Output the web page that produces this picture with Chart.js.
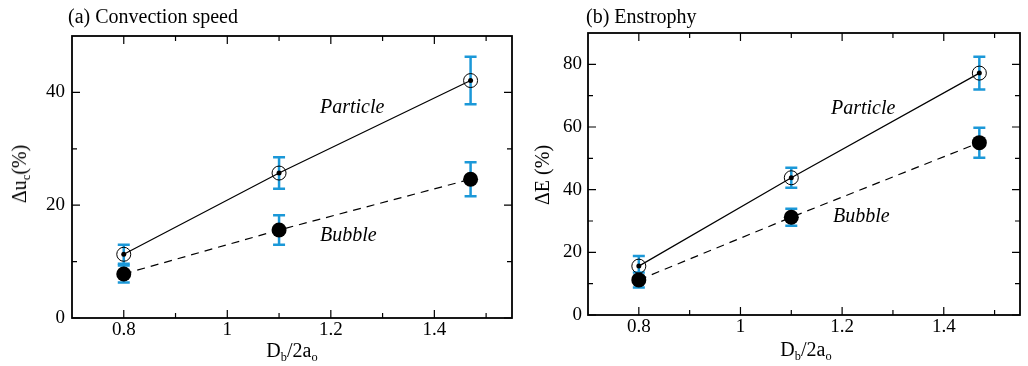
<!DOCTYPE html>
<html>
<head>
<meta charset="utf-8">
<script src="https://cdn.jsdelivr.net/npm/chart.js@4"></script>
<style>
  body { margin: 0; background: #fff; width: 1028px; height: 366px; overflow: hidden; position: relative;
         font-family: "Liberation Serif", "Times New Roman", serif; color: #000; }
  .panel { position: absolute; top: 0; height: 366px; }
  .lbl { position: absolute; font-size: 20px; line-height: 20px; white-space: nowrap; }
  .it { font-style: italic; }
  .rot { transform: translate(-50%, -50%) rotate(-90deg); }
  .cx { transform: translateX(-50%); }
  sub { font-size: 0.62em; vertical-align: -0.3em; line-height: 0; }
</style>
</head>
<body>
<div class="panel" style="left:0;width:520px"><canvas id="speedChart" width="520" height="366"></canvas></div>
<div class="panel" style="left:520px;width:508px"><canvas id="enstChart" width="508" height="366"></canvas></div>

<div class="lbl" style="left:68px;top:6px">(a) Convection speed</div>
<div class="lbl" style="left:586px;top:6px">(b) Enstrophy</div>
<div class="lbl rot" style="left:19px;top:174px">Δu<sub>c</sub>(%)</div>
<div class="lbl rot" style="left:542px;top:175px">ΔE (%)</div>
<div class="lbl cx" style="left:292px;top:340px">D<sub>b</sub>/2a<sub>o</sub></div>
<div class="lbl cx" style="left:806px;top:339px">D<sub>b</sub>/2a<sub>o</sub></div>
<div class="lbl it" style="left:320px;top:96px">Particle</div>
<div class="lbl it" style="left:320px;top:224px">Bubble</div>
<div class="lbl it" style="left:831px;top:97px">Particle</div>
<div class="lbl it" style="left:833px;top:205px">Bubble</div>

<script>
// data
const xValues = [0.8, 1.1, 1.47];

const speedParticle = [11.3, 25.7, 42.1];
const speedParticleErr = [1.7, 2.8, 4.2];
const speedBubble = [7.8, 15.6, 24.6];
const speedBubbleErr = [1.5, 2.6, 3.0];

const enstParticle = [15.6, 43.8, 77.2];
const enstParticleErr = [3.2, 3.2, 5.2];
const enstBubble = [11.2, 31.2, 55.0];
const enstBubbleErr = [2.4, 2.7, 4.8];

const xTickValues = [0.8, 0.9, 1.0, 1.1, 1.2, 1.3, 1.4, 1.5];
const xTickLabels = ['0.8', '', '1', '', '1.2', '', '1.4', ''];
const speedTickValues = [0, 10, 20, 30, 40];
const speedTickLabels = ['0', '', '20', '', '40'];
const enstTickValues = [0, 10, 20, 30, 40, 50, 60, 70, 80];
const enstTickLabels = ['0', '', '20', '', '40', '', '60', '', '80'];

const FONT = 'Liberation Serif';
const BLUE = '#1b98d8';

// error bars, drawn under the markers
const errorBars = {
    id: 'errorBars',
    beforeDatasetsDraw(chart) {
        const { ctx, scales: { x, y } } = chart;
        ctx.save();
        ctx.strokeStyle = BLUE;
        ctx.lineWidth = 2.5;
        chart.data.datasets.forEach(ds => {
            if (!ds.errors) return;
            ds.data.forEach((p, i) => {
                const px = x.getPixelForValue(p.x);
                const top = y.getPixelForValue(p.y + ds.errors[i]);
                const bot = y.getPixelForValue(p.y - ds.errors[i]);
                ctx.beginPath();
                ctx.moveTo(px, top); ctx.lineTo(px, bot);
                ctx.moveTo(px - 6, top); ctx.lineTo(px + 6, top);
                ctx.moveTo(px - 6, bot); ctx.lineTo(px + 6, bot);
                ctx.stroke();
            });
        });
        ctx.restore();
    }
};

// box frame with inward ticks on all four sides
const frameTicks = {
    id: 'frameTicks',
    afterDraw(chart) {
        const { ctx, chartArea: a, scales: { x, y } } = chart;
        const opts = chart.options.plugins.frameTicks;
        ctx.save();
        ctx.strokeStyle = '#000';
        ctx.lineWidth = 1.2;
        ctx.beginPath();
        xTickValues.forEach((v, i) => {
            const len = xTickLabels[i] ? 8 : 5;
            const px = x.getPixelForValue(v);
            ctx.moveTo(px, a.bottom); ctx.lineTo(px, a.bottom - len);
            ctx.moveTo(px, a.top); ctx.lineTo(px, a.top + len);
        });
        opts.values.forEach((v, i) => {
            const len = opts.labels[i] ? 8 : 5;
            const py = y.getPixelForValue(v);
            ctx.moveTo(a.left, py); ctx.lineTo(a.left + len, py);
            ctx.moveTo(a.right, py); ctx.lineTo(a.right - len, py);
        });
        ctx.stroke();
        ctx.lineWidth = 1.8;
        ctx.strokeRect(a.left, a.top, a.width, a.height);
        ctx.restore();
    }
};

function points(vals) {
    return xValues.map((x, i) => ({ x: x, y: vals[i] }));
}

function makeChart(id, cfg) {
    const tickFont = { family: FONT, size: 19 };
    return new Chart(document.getElementById(id), {
        type: 'line',
        data: {
            datasets: [
                { data: points(cfg.particle), showLine: false, pointRadius: 2.5,
                  pointBackgroundColor: '#000', pointBorderWidth: 0 },
                { data: points(cfg.particle), errors: cfg.particleErr, borderColor: '#000', borderWidth: 1.2,
                  pointRadius: 7, pointBorderWidth: 1, pointBorderColor: '#000',
                  pointBackgroundColor: 'rgba(0,0,0,0)' },
                { data: points(cfg.bubble), errors: cfg.bubbleErr, borderColor: '#000', borderWidth: 1.2,
                  borderDash: [8, 6], pointRadius: 7.5, pointBorderWidth: 0,
                  pointBackgroundColor: '#000' }
            ]
        },
        options: {
            responsive: false,
            animation: false,
            devicePixelRatio: 1,
            layout: { padding: cfg.padding },
            plugins: {
                legend: { display: false },
                tooltip: { enabled: false },
                frameTicks: { values: cfg.yValues, labels: cfg.yLabels }
            },
            scales: {
                x: {
                    type: 'linear', min: 0.7, max: 1.55,
                    grid: { display: false, drawTicks: false },
                    border: { display: false },
                    afterBuildTicks: s => { s.ticks = xTickValues.map(v => ({ value: v })); },
                    afterFit: s => { s.height = cfg.xHeight; },
                    ticks: { padding: 1, color: '#000', font: tickFont, maxRotation: 0, autoSkip: false,
                             callback: (v, i) => xTickLabels[i] }
                },
                y: {
                    min: 0, max: cfg.yMax,
                    grid: { display: false, drawTicks: false },
                    border: { display: false },
                    afterBuildTicks: s => { s.ticks = cfg.yValues.map(v => ({ value: v })); },
                    afterFit: s => { s.width = cfg.yWidth; },
                    ticks: { padding: cfg.yPad, color: '#000', font: tickFont, autoSkip: false,
                             callback: (v, i) => cfg.yLabels[i] }
                }
            }
        },
        plugins: [errorBars, frameTicks]
    });
}

makeChart('speedChart', {
    particle: speedParticle, particleErr: speedParticleErr,
    bubble: speedBubble, bubbleErr: speedBubbleErr,
    yValues: speedTickValues, yLabels: speedTickLabels, yMax: 50,
    padding: { top: 36, right: 8, left: 0, bottom: 0 }, xHeight: 48, yWidth: 72, yPad: 7
});

makeChart('enstChart', {
    particle: enstParticle, particleErr: enstParticleErr,
    bubble: enstBubble, bubbleErr: enstBubbleErr,
    yValues: enstTickValues, yLabels: enstTickLabels, yMax: 90,
    padding: { top: 33, right: 6, left: 0, bottom: 0 }, xHeight: 51, yWidth: 68, yPad: 6
});
</script>
</body>
</html>
